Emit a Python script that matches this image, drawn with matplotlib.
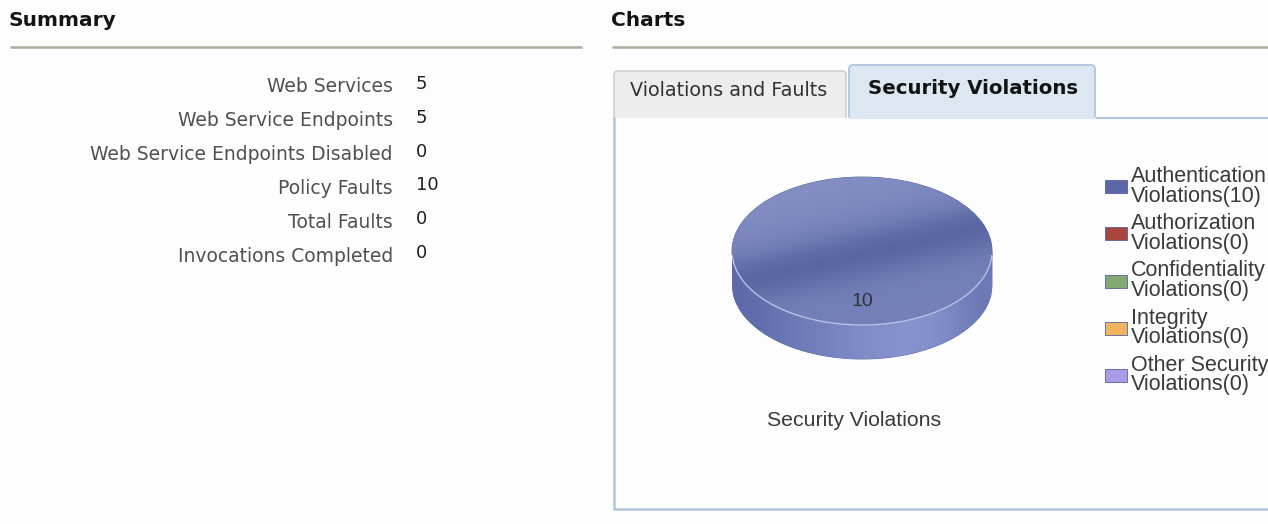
import numpy as np
import matplotlib
matplotlib.use('Agg')
import matplotlib.pyplot as plt
from matplotlib.patches import FancyBboxPatch
from matplotlib.colors import LinearSegmentedColormap

# summary table
summary_labels = ['Web Services', 'Web Service Endpoints', 'Web Service Endpoints Disabled',
                  'Policy Faults', 'Total Faults', 'Invocations Completed']
summary_values = [5, 5, 0, 10, 0, 0]

# pie data
violation_names = ['Authentication', 'Authorization', 'Confidentiality', 'Integrity', 'Other Security']
violation_counts = [10, 0, 0, 0, 0]
violation_colors = ['#5b67a8', '#a8453f', '#83a872', '#f1b45e', '#aa9be6']

tab_labels = ['Violations and Faults', 'Security Violations']

W, H = 1268, 524
fig = plt.figure(figsize=(W / 100, H / 100), dpi=100)
fig.patch.set_facecolor('#fdfdfd')

# background axes in pixel units
bg = fig.add_axes([0, 0, 1, 1])
bg.set_xlim(0, W)
bg.set_ylim(H, 0)
bg.axis('off')

# headers
bg.text(9, 21, 'Summary', fontsize=14.5, fontweight='bold', color='#141414',
        family='DejaVu Sans', va='center', ha='left')
bg.text(611, 21, 'Charts', fontsize=14.5, fontweight='bold', color='#141414',
        family='DejaVu Sans', va='center', ha='left')
bg.plot([10, 582], [47, 47], color='#aeab9c', lw=1.8, solid_capstyle='butt')
bg.plot([612, W], [47, 47], color='#aeab9c', lw=1.8, solid_capstyle='butt')

# summary rows
row_y = np.arange(len(summary_labels)) * 33.8 + 87
for y, lab, val in zip(row_y, summary_labels, summary_values):
    bg.text(393, y, lab, ha='right', va='center', fontsize=13.5, color='#505050',
            family='DejaVu Sans')
    bg.text(416, y - 3, str(val), ha='left', va='center', fontsize=13, color='#202020',
            family='DejaVu Sans')

# tabs
tab1 = FancyBboxPatch((614, 71), 232, 52, boxstyle='round,pad=0,rounding_size=4',
                      fc='#ededed', ec='#c9c9c9', lw=1)
tab2 = FancyBboxPatch((849, 65), 246, 58, boxstyle='round,pad=0,rounding_size=4',
                      fc='#dde7f1', ec='#a9c0da', lw=1.2)
bg.add_patch(tab1)
bg.add_patch(tab2)
bg.add_patch(plt.Rectangle((612, 118), W - 612, 391, fc='#fdfdfd', ec='none', zorder=2))
bg.plot([1095, W], [118, 118], color='#b3c6dc', lw=1.5, zorder=3)
bg.plot([613.5, 613.5, W], [118, 508.5, 508.5], color='#b3c6dc', lw=1.8, zorder=3)
bg.plot([849, 1095], [118, 118], color='#dde7f1', lw=1.5, zorder=3)
bg.text(729, 90, tab_labels[0], ha='center', va='center', fontsize=13.8, color='#333333',
        family='DejaVu Sans', zorder=4)
bg.text(973, 89, tab_labels[1], ha='center', va='center', fontsize=14.2, fontweight='bold',
        color='#141414', family='DejaVu Sans', zorder=4)

bg.text(854, 421, 'Security Violations', ha='center', va='center', fontsize=15.3,
        color='#3a3a3a', family='Liberation Sans', zorder=4)

# pie axes, squashed to look like a disc
cx, cy, rx, ry, depth = 862, 251, 130, 74, 34
depth_u = depth / ry
pax = fig.add_axes([(cx - rx) / W, (H - (cy + ry + depth)) / H, 2 * rx / W,
                    (2 * ry + depth) / H])
pax.patch.set_alpha(0)

# side of the disc
wb, _ = pax.pie(violation_counts, colors=violation_colors, startangle=90,
                counterclock=False, center=(0, -depth_u), radius=1,
                wedgeprops=dict(lw=0))
xs = np.linspace(-1, 1, 300)
side = pax.fill_between(xs, -np.sqrt(1 - xs ** 2) - depth_u, 0, color='#6c79b7', lw=0)
side_grad = np.array([[0.0, 0.3, 0.5, 0.7, 0.9, 1.0, 0.85, 0.35]])
sg = pax.imshow(side_grad, extent=(-1, 1, -1 - depth_u, 0), aspect='auto',
                cmap=LinearSegmentedColormap.from_list('side', ['#5d69a9', '#8794cd']),
                interpolation='bicubic', zorder=2)
sg.set_clip_path(side.get_paths()[0], transform=pax.transData)

# top face
wt, texts, autotexts = pax.pie(violation_counts, colors=violation_colors, startangle=90,
                               counterclock=False, radius=1, pctdistance=0.68,
                               autopct=lambda p: '%d' % round(p * sum(violation_counts) / 100) if p > 0 else '',
                               wedgeprops=dict(lw=0.6, edgecolor='#56619c'),
                               textprops=dict(fontsize=14, color='#333333', family='Liberation Sans'))
for w in wt:
    w.set_zorder(3)
for t in autotexts:
    t.set_zorder(6)
gy, gx = np.mgrid[1:-1:200j, -1:1:200j]
band = np.exp(-((gy - 0.4 * gx + 0.05) / 0.33) ** 2)
shade = 0.5 - 0.32 * band + 0.18 * np.clip(gy - 0.4 * gx, 0, 1) * (1 - band)
top = pax.imshow(shade, extent=(-1, 1, -1, 1), aspect='auto',
                 cmap=LinearSegmentedColormap.from_list('top', ['#56629f', '#8893c8']),
                 vmin=0.12, vmax=0.75, zorder=4, interpolation='bilinear')
top.set_clip_path(wt[0])
# light rim on the front edge
th = np.linspace(np.pi * 1.02, np.pi * 1.98, 100)
pax.plot(np.cos(th), np.sin(th), color='#b9c2e6', lw=1.0, zorder=5)
pax.set_aspect('auto')
pax.set_xlim(-1.0, 1.0)
pax.set_ylim(-1 - depth_u, 1)
pax.axis('off')

# legend
labels = [f'{n}\nViolations({c})' for n, c in zip(violation_names, violation_counts)]
leg = fig.legend(wt, labels, loc='upper left', bbox_to_anchor=(1105 / W, 1 - 166 / H),
                 frameon=False, handlelength=1.0, handleheight=0.55,
                 handletextpad=0.2, labelspacing=0.3, borderaxespad=0, borderpad=0,
                 prop=dict(family='Liberation Sans', size=15.5), labelcolor='#3a3a3a')
for t in leg.get_texts():
    t.set_linespacing(0.92)

fig.savefig('out.png', dpi=100, facecolor=fig.get_facecolor())
